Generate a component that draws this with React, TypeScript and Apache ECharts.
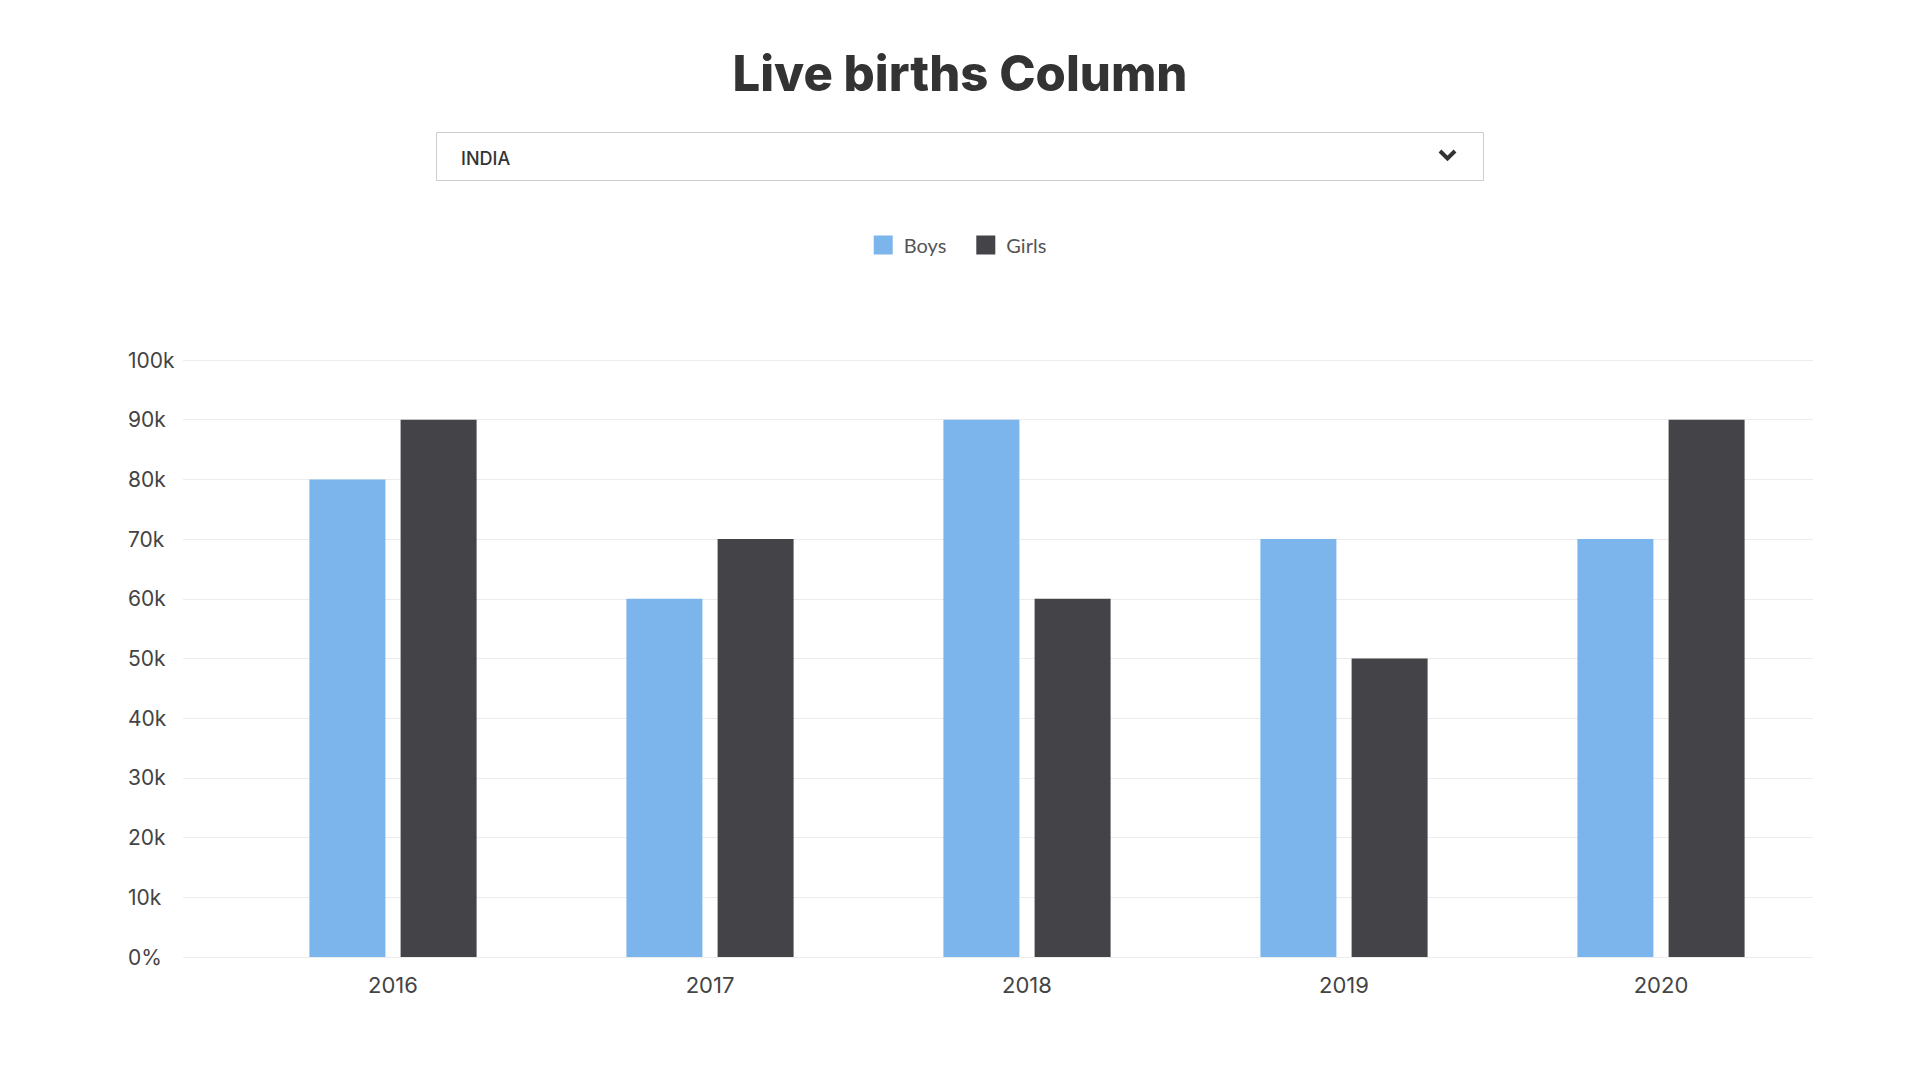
import React, { useEffect, useRef } from "react";
import * as echarts from "echarts";

const categories = ["2016", "2017", "2018", "2019", "2020"];
const boys = [80000, 60000, 90000, 70000, 70000];
const girls = [90000, 70000, 60000, 50000, 90000];
const seriesNames = ["Boys", "Girls"];
const titleText = "Live births Column";
const dropdownText = "INDIA";

const Y_MIN = 0;
const Y_MAX = 100000;
const Y_STEP = 10000;

export default function App() {
  const ref = useRef<HTMLDivElement>(null);
  useEffect(() => {
    if (!ref.current) return;
    const chart = echarts.init(ref.current, null, { renderer: "svg" });
    const fmt = (v: number) => (v === 0 ? "0%" : v / 1000 + "k");
    const top = 360;
    const bottom = 1080 - 957;
    chart.setOption({
      animation: false,
      backgroundColor: "#ffffff",
      legend: {
        data: seriesNames,
        left: "center",
        top: 230,
        itemWidth: 19,
        itemHeight: 19,
        itemGap: 30,
        icon: "rect",
        textStyle: {
          fontFamily: "Lato",
          fontSize: 20,
          color: "#555555",
          padding: [0, 0, 0, 6],
        },
      },
      grid: [
        { left: 183, right: 107, top, bottom },
        { left: 234.5, right: 100.5, top, bottom },
      ],
      xAxis: [
        {
          gridIndex: 0,
          type: "category",
          data: categories,
          show: false,
        },
        {
          gridIndex: 1,
          type: "category",
          data: categories,
          axisLine: { show: false },
          axisTick: { show: false },
          axisLabel: {
            fontFamily: "Inter",
            fontSize: 22,
            color: "#444444",
            margin: 17,
          },
        },
      ],
      yAxis: [
        {
          gridIndex: 0,
          type: "value",
          min: Y_MIN,
          max: Y_MAX,
          interval: Y_STEP,
          axisLine: { show: false },
          axisTick: { show: false },
          axisLabel: {
            formatter: fmt,
            align: "left",
            margin: 55,
            fontFamily: "Inter",
            fontSize: 21,
            color: "#444444",
          },
          splitLine: { lineStyle: { color: "#ececec", width: 1 } },
        },
        {
          gridIndex: 1,
          type: "value",
          min: Y_MIN,
          max: Y_MAX,
          interval: Y_STEP,
          show: false,
          splitLine: { show: false },
        },
      ],
      series: [
        {
          name: seriesNames[0],
          type: "bar",
          xAxisIndex: 1,
          yAxisIndex: 1,
          data: boys,
          barWidth: 76,
          barGap: "20%",
          itemStyle: { color: "#7cb5ec" },
        },
        {
          name: seriesNames[1],
          type: "bar",
          xAxisIndex: 1,
          yAxisIndex: 1,
          data: girls,
          barWidth: 76,
          barGap: "20%",
          itemStyle: { color: "#434348" },
        },
      ],
      graphic: [
        {
          type: "text",
          x: 960,
          y: 73,
          style: {
            text: titleText,
            fontFamily: "Inter",
            fontWeight: 800,
            fontSize: 49,
            fill: "#333333",
            align: "center",
            verticalAlign: "middle",
          },
        },
        {
          type: "rect",
          shape: { x: 436.5, y: 132.5, width: 1047, height: 48 },
          style: { fill: "#ffffff", stroke: "#cccccc", lineWidth: 1 },
        },
        {
          type: "text",
          x: 461,
          y: 158,
          style: {
            text: dropdownText,
            fontFamily: "Inter",
            fontWeight: 500,
            fontSize: 18,
            fill: "#333333",
            align: "left",
            verticalAlign: "middle",
          },
        },
        {
          type: "polyline",
          shape: { points: [[1440, 151], [1447.5, 158.5], [1455, 151]] },
          style: { stroke: "#333333", lineWidth: 4, fill: "none" },
        },
      ],
    });
    return () => chart.dispose();
  }, []);
  return (
    <div
      ref={ref}
      style={{ position: "absolute", left: 0, top: 0, width: 1920, height: 1080 }}
    />
  );
}
